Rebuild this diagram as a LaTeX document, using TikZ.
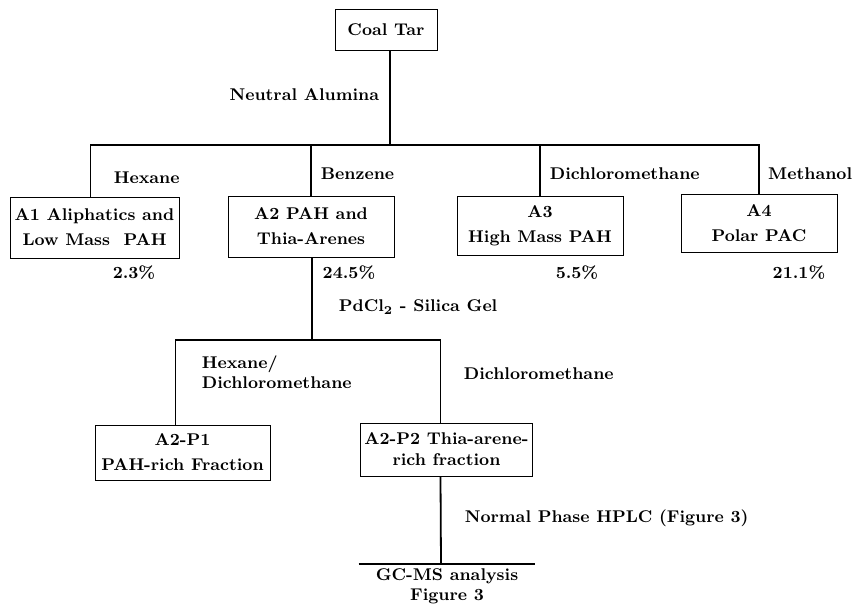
\documentclass[tikz,border=0pt]{standalone}
\usepackage{tikz}
\usetikzlibrary{positioning}

\begin{document}
\begin{tikzpicture}[x=0.5pt, y=-0.5pt,
					line width=0.9pt,
					every node/.style={font=\fontsize{8.5}{10}\selectfont\bfseries, inner sep=1pt},
					fraction/.style={draw, line width=0.5pt, align=center, inner sep=2pt,
						font=\fontsize{8.5}{12.5}\selectfont\bfseries},
					solvent/.style={anchor=west, align=left}]
\useasboundingbox (0,0) rectangle (853,612);

% boxes
\node[fraction, minimum width=51pt, minimum height=20.5pt] (coal) at (386,29.5) {Coal Tar};
\node[fraction, minimum width=84.5pt, minimum height=30.5pt] (a1) at (94.5,227.5) {A1 Aliphatics and\\Low Mass\ \ PAH};
\node[fraction, minimum width=83pt, minimum height=30.5pt] (a2) at (311,226.5) {A2 PAH and\\Thia-Arenes};
\node[fraction, minimum width=83pt, minimum height=29.5pt] (a3) at (540,225.5) {A3\\High Mass PAH};
\node[fraction, minimum width=78pt, minimum height=29pt] (a4) at (759,223) {A4\\Polar PAC};
\node[fraction, minimum width=87.5pt, minimum height=27.5pt] (p1) at (182.5,452.5) {A2-P1\\PAH-rich Fraction};
\node[fraction, minimum width=83.5pt, minimum height=26.5pt, font=\fontsize{8.5}{10.5}\selectfont\bfseries] (p2) at (446.5,449.5) {A2-P2 Thia-arene-\\rich fraction};
\node[align=center, anchor=north, minimum width=87.5pt, inner sep=2pt] (gcms) at (447,564) {GC-MS analysis\\Figure 3};

\coordinate (bus) at (390,145);
\coordinate (split) at (312,340);

% tree
\draw (coal.south -| bus) -- (bus);
\draw ([xshift=-2pt]a1.north) |- (bus) -| (a4.north);
\draw (a2.north) -- (a2.north |- bus);
\draw (a3.north) -- (a3.north |- bus);
\draw (a2.south -| split) -- (split);
\draw ([xshift=-3.5pt]p1.north) |- (split) -| ([xshift=-3pt]p2.north);
\draw ([xshift=-3pt]p2.south) -- ([xshift=-3pt]gcms.north);
\draw (gcms.north west) -- (gcms.north east);

% solvents
\node[anchor=east] (alumina) at (382,95) {Neutral Alumina};
\node[solvent] (hexane) at (111,178) {Hexane};
\node[solvent] (benzene) at (318,174) {Benzene};
\node[solvent] (dcm) at (547,174) {Dichloromethane};
\node[anchor=east, inner sep=0pt] (methanol) at (853,174) {Methanol};
\node[solvent] (pdcl) at (336,307) {PdCl$_\mathbf{2}$ - Silica Gel};
\node[solvent] (hexdcm) at (199,372) {Hexane/\\Dichloromethane};
\node[solvent] (dcmtwo) at (461,374) {Dichloromethane};
\node[solvent] (hplc) at (462,518) {Normal Phase HPLC (Figure 3)};

% yields
\node (y1) at (134,273) {2.3\%};
\node (y2) at (349,273) {24.5\%};
\node (y3) at (577,273) {5.5\%};
\node (y4) at (799,273) {21.1\%};
\end{tikzpicture}
\end{document}
